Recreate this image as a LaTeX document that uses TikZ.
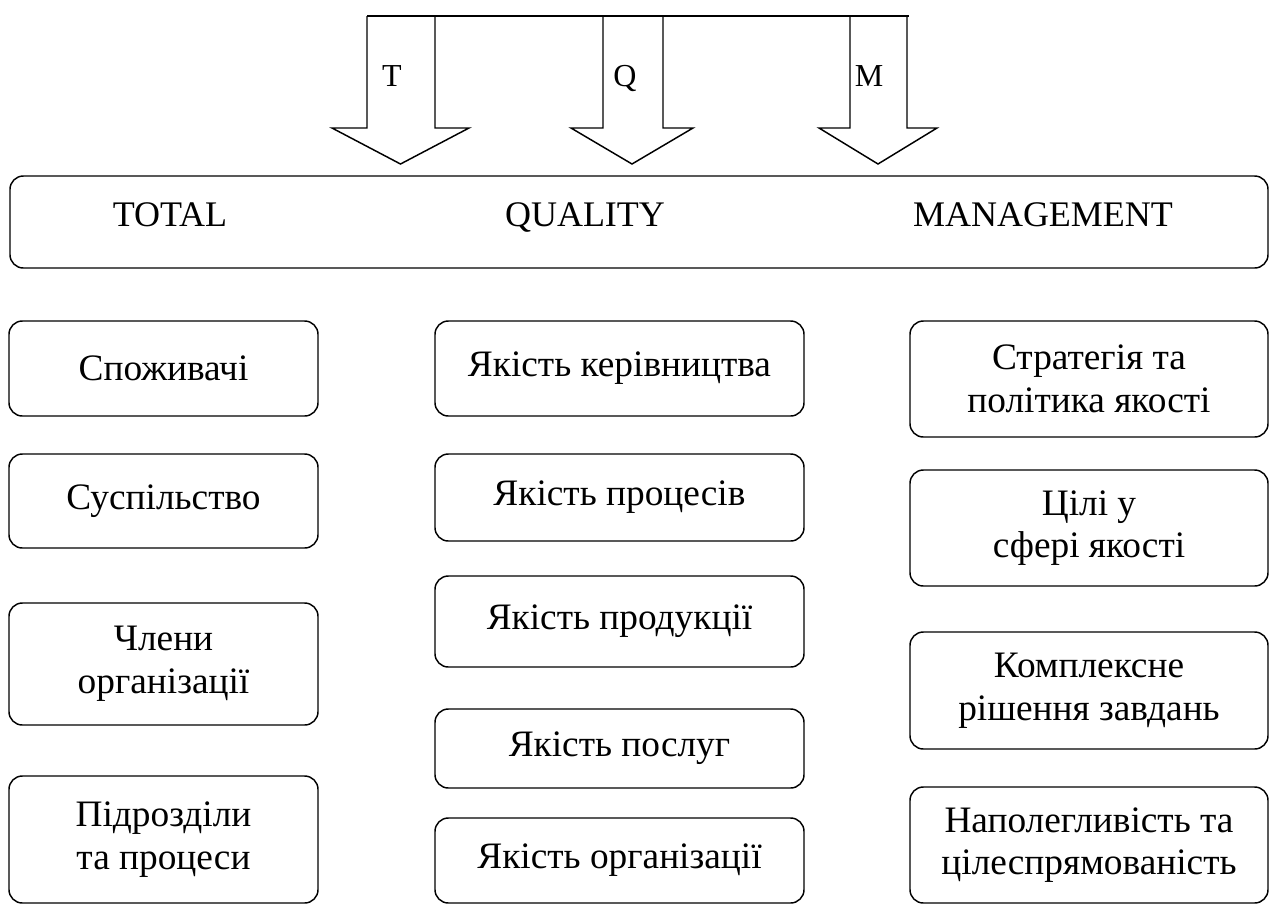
\documentclass[tikz,border=0pt]{standalone}
\usepackage{fontspec}
\setmainfont{Liberation Serif}
\usetikzlibrary{positioning}

\tikzset{
  box/.style={draw, rounded corners=10pt, line width=1.1pt, align=center, inner sep=0pt,
    font=\fontsize{28}{32}\selectfont},
  lbox/.style={box, minimum width=231.75pt},
  mbox/.style={box, minimum width=276.75pt},
  rbox/.style={box, minimum width=268.5pt},
  headtext/.style={anchor=base, font=\fontsize{27}{32}\selectfont},
  arrowline/.style={line width=1.1pt, line join=miter},
}

\begin{document}
\begin{tikzpicture}[x=0.75pt,y=-0.75pt]
\useasboundingbox (0,0) rectangle (1271,904);

% T, Q, M arrows
\draw[arrowline] (367,16) -- (909,16);
\foreach \xl/\xr/\hl/\hr/\lab/\lx in {367/435/332/469/T/392, 603/663/571/693/Q/625, 850/907/819/937/M/869}{
  \draw[arrowline] (\xl,16) -- (\xl,128) -- (\hl,128) -- ({(\hl+\hr)/2},164) -- (\hr,128) -- (\xr,128) -- (\xr,16);
  \node[anchor=base, font=\fontsize{24}{28}\selectfont] (lab\lab) at (\lx,86) {\lab};
}

% TQM band
\node[box, minimum width=943.5pt, minimum height=69pt] (tqm) at (639,222) {};
\node[headtext] (total) at (170,226) {TOTAL};
\node[headtext] (quality) at (585,226) {QUALITY};
\node[headtext] (management) at (1043,226) {MANAGEMENT};

% TOTAL column
\node[lbox, minimum height=71.25pt] (l1) at (163.5,368.5) {Споживачі};
\node[lbox, minimum height=70.5pt] (l2) at (163.5,501) {Суспільство};
\node[lbox, minimum height=91.5pt] (l3) at (163.5,664) {Члени\\організації};
\node[lbox, minimum height=95.25pt] (l4) at (163.5,839.5) {Підрозділи\\та процеси};

% QUALITY column
\node[mbox, minimum height=71.25pt] (m1) at (619.5,368.5) {Якість керівництва};
\node[mbox, minimum height=65.25pt] (m2) at (619.5,497.5) {Якість процесів};
\node[mbox, minimum height=68.25pt] (m3) at (619.5,621.5) {Якість продукції};
\node[mbox, minimum height=59.25pt] (m4) at (619.5,748.5) {Якість послуг};
\node[mbox, minimum height=63.75pt] (m5) at (619.5,860.5) {Якість організації};

% MANAGEMENT column
\node[rbox, minimum height=87pt] (r1) at (1089,379) {Стратегія та\\політика якості};
\node[rbox, minimum height=87pt] (r2) at (1089,528) {Цілі у\\сфері якості};
\node[rbox, minimum height=87.75pt] (r3) at (1089,690.5) {Комплексне\\рішення завдань};
\node[rbox, minimum height=87pt] (r4) at (1089,845) {Наполегливість та\\цілеспрямованість};
\end{tikzpicture}
\end{document}
